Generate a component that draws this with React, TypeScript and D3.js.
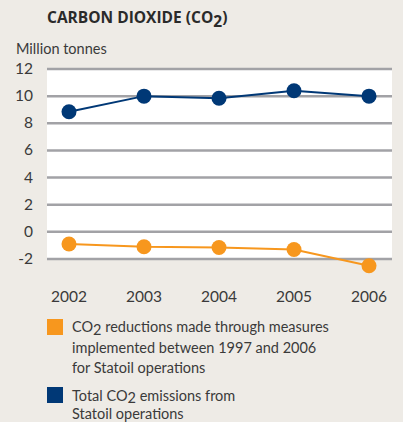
import React from 'react'
import * as d3 from 'd3'

const years = ['2002', '2003', '2004', '2005', '2006']
const totalEmissions = [8.85, 10.0, 9.85, 10.4, 10.0]
const reductions = [-0.9, -1.1, -1.15, -1.3, -2.5]
const yTicks = [12, 10, 8, 6, 4, 2, 0, -2]

const FONT = 'Lato, sans-serif'
const TITLE_FONT = '"Open Sans", sans-serif'
const TEXT = '#3a3a3a'
const BLUE = '#003876'
const ORANGE = '#F7971E'

const App = () => {
  const width = 403
  const height = 422

  const x = d3.scalePoint<string>().domain(years).range([69, 369])
  const y = d3.scaleLinear().domain([-2, 12]).range([259, 69])

  const line = d3.line<number>()
    .x((_, i) => x(years[i]) as number)
    .y(d => y(d))

  const series = [
    { values: reductions, color: ORANGE },
    { values: totalEmissions, color: BLUE }
  ]

  return (
    <svg width={width} height={height} style={{ position: 'absolute', left: 0, top: 0 }}
      fontFamily={FONT}>
      <rect width={width} height={height} fill="#EEEBE6" />

      <text x={47} y={23} fontSize={15.5} fontWeight="bold" fill="#2a2a2a" fontFamily={TITLE_FONT}>
        CARBON DIOXIDE (CO<tspan dy={4}>2</tspan><tspan dy={-4}>)</tspan>
      </text>
      <text x={16} y={54} fontSize={14.5} fill={TEXT}>Million tonnes</text>

      <rect x={47} y={y(12)} width={345} height={y(-2) - y(12)} fill="#ffffff" />
      {yTicks.map(t => (
        <g key={t}>
          <line x1={47} x2={392} y1={y(t)} y2={y(t)} stroke="#a2a2a6" strokeWidth={2.5} />
          <text x={33} y={y(t) + 5} textAnchor="end" fontSize={15.5} fill={TEXT}>{t}</text>
        </g>
      ))}

      {series.map((s, k) => (
        <g key={k}>
          <path d={line(s.values) ?? ''} fill="none" stroke={s.color} strokeWidth={2} />
          {s.values.map((v, i) => (
            <circle key={i} cx={x(years[i])} cy={y(v)} r={7.5} fill={s.color} />
          ))}
        </g>
      ))}

      {years.map(yr => (
        <text key={yr} x={x(yr)} y={302} textAnchor="middle" fontSize={15.5} fill={TEXT}>{yr}</text>
      ))}

      <rect x={47} y={319} width={16} height={16} fill={ORANGE} />
      <text x={72} y={332} fontSize={14.5} fill={TEXT}>
        CO<tspan dy={3}>2</tspan><tspan dy={-3}> reductions made through measures</tspan>
      </text>
      <text x={72} y={352.5} fontSize={14.5} fill={TEXT}>implemented between 1997 and 2006</text>
      <text x={72} y={373} fontSize={14.5} fill={TEXT}>for Statoil operations</text>

      <rect x={47} y={387} width={16} height={16} fill={BLUE} />
      <text x={72} y={400.5} fontSize={14.5} fill={TEXT}>
        Total CO<tspan dy={2.5}>2</tspan><tspan dy={-2.5}> emissions from</tspan>
      </text>
      <text x={72} y={419} fontSize={14.5} fill={TEXT}>Statoil operations</text>
    </svg>
  )
}

export default App
